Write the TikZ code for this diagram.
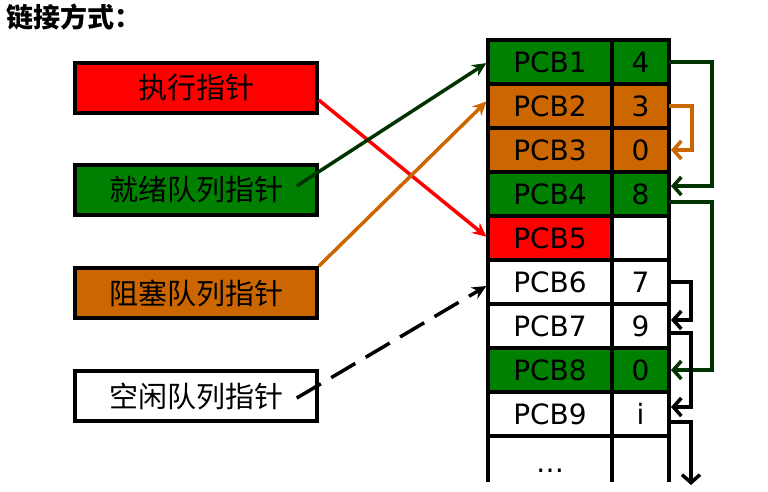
\documentclass[tikz,border=0pt]{standalone}
\usepackage{fontspec}
\setmainfont{DejaVu Sans}
\newfontfamily\cjk{Noto Sans CJK SC}
\usetikzlibrary{arrows.meta,positioning}
\definecolor{pcbgreen}{RGB}{0,128,0}
\definecolor{pcborange}{RGB}{204,102,0}
\definecolor{darkline}{RGB}{0,51,0}

\begin{document}
\begin{tikzpicture}[x=1pt,y=-1pt,line width=3.5pt,node distance=0pt]
  \tikzstyle{ptr}=[draw,line width=3.5pt,minimum width=242pt,minimum height=50pt,
                   font=\cjk\fontsize{29}{32}\selectfont]
  \tikzstyle{pcb}=[draw,line width=4pt,outer sep=0pt,inner sep=0pt,
                   minimum width=124pt,minimum height=44pt,
                   font=\fontsize{28}{32}\selectfont]
  \tikzstyle{val}=[pcb,minimum width=57pt]
  \tikzstyle{head}=[-{Stealth[length=14pt,width=13pt]},shorten >=2pt]
  \tikzstyle{link}=[-{Straight Barb[length=8pt,width=18pt]},shorten >=2pt]

  \useasboundingbox (0,0) rectangle (768,491);

  \node[anchor=west,inner sep=0pt,font=\cjk\bfseries\fontsize{27}{30}\selectfont]
       (title) at (5,17) {链接方式：};

  % pointers
  \node[ptr,fill=red]       (run)  at (196,88)  {执行指针};
  \node[ptr,fill=pcbgreen]  (rdy)  at (196,190) {就绪队列指针};
  \node[ptr,fill=pcborange] (blk)  at (196,293) {阻塞队列指针};
  \node[ptr,fill=white]     (free) at (196,396) {空闲队列指针};

  % PCB table
  \node[pcb,fill=pcbgreen]  (p1) at (550,62)   {PCB1};
  \node[val,fill=pcbgreen]  (v1) [right=of p1] {4};
  \node[pcb,fill=pcborange] (p2) [below=of p1] {PCB2};
  \node[val,fill=pcborange] (v2) [right=of p2] {3};
  \node[pcb,fill=pcborange] (p3) [below=of p2] {PCB3};
  \node[val,fill=pcborange] (v3) [right=of p3] {0};
  \node[pcb,fill=pcbgreen]  (p4) [below=of p3] {PCB4};
  \node[val,fill=pcbgreen]  (v4) [right=of p4] {8};
  \node[pcb,fill=red]       (p5) [below=of p4] {PCB5};
  \node[val,fill=white]     (v5) [right=of p5] {};
  \node[pcb,fill=white]     (p6) [below=of p5] {PCB6};
  \node[val,fill=white]     (v6) [right=of p6] {7};
  \node[pcb,fill=white]     (p7) [below=of p6] {PCB7};
  \node[val,fill=white]     (v7) [right=of p7] {9};
  \node[pcb,fill=pcbgreen]  (p8) [below=of p7] {PCB8};
  \node[val,fill=pcbgreen]  (v8) [right=of p8] {0};
  \node[pcb,fill=white]     (p9) [below=of p8] {PCB9};
  \node[val,fill=white]     (v9) [right=of p9] {i};

  \draw[line width=4pt] (p9.south west) -- ++(0,46)
                        (p9.south east) -- ++(0,46)
                        (v9.south east) -- ++(0,46);
  \node[font=\fontsize{28}{32}\selectfont] (more) at ([yshift=-35pt]p9.south) {…};

  % pointers into the table
  \draw[head,red] ([yshift=-12pt]run.east) -- (p5.west);
  \draw[head,darkline] ([xshift=-22pt,yshift=4pt]rdy.east) -- (p1.west);
  \draw[head,pcborange] (blk.north east) -- ([yshift=6pt]p2.west);
  \draw[head,dash pattern=on 28pt off 12pt]
       ([xshift=-22pt,yshift=-2pt]free.east) -- ([yshift=-3pt]p6.west);

  % links between PCBs
  \draw[link,darkline] (v1.east) -- ++(43,0) |- ([yshift=8pt]v4.east);
  \draw[link,pcborange] (v2.east) -- ++(23,0) |- (v3.east);
  \draw[link,darkline] ([yshift=-8pt]v4.east) -- ++(43,0) |- (v8.east);
  \draw[link] (v6.east) -- ++(22,0) |- ([yshift=6pt]v7.east);
  \draw[link] ([yshift=-7pt]v7.east) -- ++(22,0) |- ([yshift=7pt]v9.east);
  \coordinate (next) at (691,487);
  \draw[link] ([yshift=-8pt]v9.east) -| (next);
\end{tikzpicture}
\end{document}
